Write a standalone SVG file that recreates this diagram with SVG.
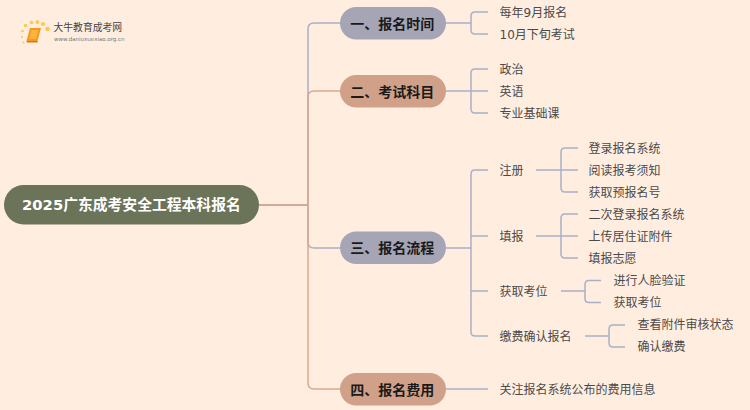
<svg xmlns="http://www.w3.org/2000/svg" width="750" height="410" viewBox="0 0 750 410">
<style>
text{font-family:"DejaVu Sans","Noto Sans CJK SC",sans-serif;dominant-baseline:central}
.l{font-size:12px;fill:#4a4a4a}
.b{font-size:14px;font-weight:bold;fill:#1a1a1a;text-anchor:middle}
.c{fill:none;stroke-width:1.5;stroke-linejoin:round}
.p{stroke:#abafc6}
.t{stroke:#d9a88f}
</style>
<rect width="750" height="410" fill="#ffeee0"/>
<g id="logo">
<g fill="#fbc94e"><circle cx="25.500" cy="25.500" r="1.700"/><circle cx="31.500" cy="22.500" r="1.800"/><circle cx="37.500" cy="22" r="1.900"/><circle cx="43" cy="24" r="2.100"/><circle cx="47.500" cy="29" r="2.300"/><circle cx="22.500" cy="31" r="1.300"/><circle cx="22" cy="37" r="1.100"/><circle cx="23.500" cy="42.500" r="1"/></g>
<path d="M30 28H41L37.500 41H26.500Z" fill="#f39a1e"/>
<path d="M31.500 30H38.500L36 39H29Z" fill="#fbb53c"/>
<path d="M26.500 41H37.500L38 42.500H27Z" fill="#d9761a"/>
<text x="53.500" y="27.500" font-size="9.800" fill="#444">大牛教育成考网</text>
<text x="54" y="38.500" font-size="5.500" fill="#777">www.daniuxuexiao.org.cn</text>
</g>
<g id="connectors">
<path class="c p" d="M259 205H308V29Q308 23 314 23H340"/>
<path class="c t" d="M259 205H308V97Q308 91 314 91H340"/>
<path class="c p" d="M259 205H308V242Q308 248 314 248H340"/>
<path class="c t" d="M259 205H308V383Q308 389 314 389H340"/>
<path class="c p" d="M446 23H471M488 12H475Q471 12 471 16V30Q471 34 475 34H488"/>
<path class="c p" d="M446 91H488M488 69H475Q471 69 471 73V109Q471 113 475 113H488"/>
<path class="c p" d="M446 248H471M488 170H475Q471 170 471 174V332Q471 336 475 336H488M471 236H488M471 291H488"/>
<path class="c p" d="M446 389H488"/>
<path class="c p" d="M536 170H578M578 148H565Q561 148 561 152V188Q561 192 565 192H578"/>
<path class="c p" d="M536 236H578M578 214H565Q561 214 561 218V254Q561 258 565 258H578"/>
<path class="c p" d="M561 291H585M601 280.500H589Q585 280.500 585 284.500V298.500Q585 302.500 589 302.500H601"/>
<path class="c p" d="M585 336H609M625 325H613Q609 325 609 329V343Q609 347 613 347H625"/>
</g>
<g id="root"><rect x="4" y="185" width="255" height="39.500" rx="19.700" fill="#6b7359"/><text x="22" y="204.500" font-size="14.800" font-weight="bold" fill="#fff">2025广东成考安全工程本科报名</text></g>
<g id="b1"><rect x="340" y="7" width="106" height="32.500" rx="16.200" fill="#a5a5b5"/><text class="b" x="392.200" y="23.500">一、报名时间</text></g>
<g id="b2"><rect x="340" y="75" width="106" height="32.500" rx="16.200" fill="#d1a088"/><text class="b" x="392.200" y="91.500">二、考试科目</text></g>
<g id="b3"><rect x="340" y="231.500" width="106" height="32.500" rx="16.200" fill="#a5a5b5"/><text class="b" x="392.200" y="248">三、报名流程</text></g>
<g id="b4"><rect x="340" y="373" width="106" height="32.500" rx="16.200" fill="#d1a088"/><text class="b" x="392.200" y="389.500">四、报名费用</text></g>
<g id="leaves" transform="translate(-0.500 1)">
<text class="l" x="500" y="12">每年9月报名</text>
<text class="l" x="500" y="34">10月下旬考试</text>
<text class="l" x="500" y="69">政治</text>
<text class="l" x="500" y="91">英语</text>
<text class="l" x="500" y="113">专业基础课</text>
<text class="l" x="500" y="170">注册</text>
<text class="l" x="589" y="148">登录报名系统</text>
<text class="l" x="589" y="170">阅读报考须知</text>
<text class="l" x="589" y="192">获取预报名号</text>
<text class="l" x="500" y="236">填报</text>
<text class="l" x="589" y="214">二次登录报名系统</text>
<text class="l" x="589" y="236">上传居住证附件</text>
<text class="l" x="589" y="258">填报志愿</text>
<text class="l" x="500" y="291">获取考位</text>
<text class="l" x="614" y="280">进行人脸验证</text>
<text class="l" x="614" y="302">获取考位</text>
<text class="l" x="500" y="336">缴费确认报名</text>
<text class="l" x="638" y="324">查看附件审核状态</text>
<text class="l" x="638" y="346">确认缴费</text>
<text class="l" x="500" y="389">关注报名系统公布的费用信息</text>
</g>
</svg>
